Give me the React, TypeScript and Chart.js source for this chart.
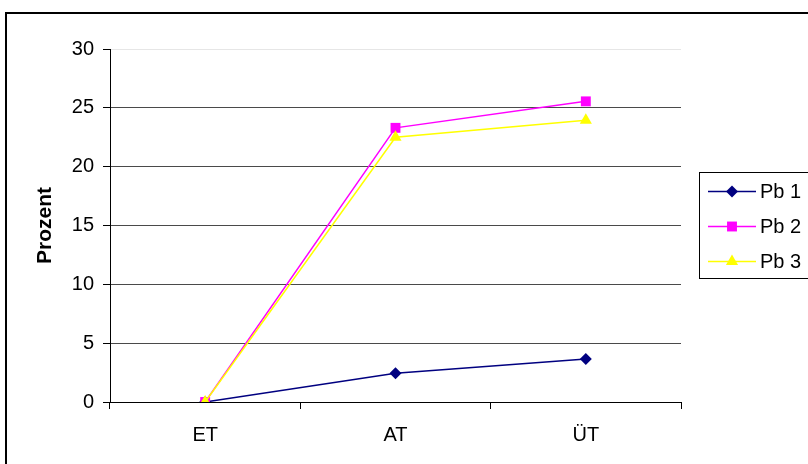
import { useEffect, useRef } from 'react';
import { Chart, registerables } from 'chart.js';

Chart.register(...registerables);

const categories = ['ET', 'AT', 'ÜT'];
const seriesNames = ['Pb 1', 'Pb 2', 'Pb 3'];
const pb1Values = [0, 2.45, 3.65];
const pb2Values = [0, 23.3, 25.55];
const pb3Values = [0, 22.5, 23.95];
const yTickValues = [0, 5, 10, 15, 20, 25, 30];
const yAxisTitle = 'Prozent';

const seriesColors = ['#000080', '#FF00FF', '#FFFF00'];
const seriesMarkers = ['rectRot', 'rect', 'triangle'];
const seriesMarkerRadius = [6, 7, 7];

const FONT = "'Liberation Sans', Arial, sans-serif";

function drawMarker(ctx: CanvasRenderingContext2D, kind: string, x: number, y: number, r: number) {
  ctx.beginPath();
  if (kind === 'rectRot') {
    ctx.moveTo(x, y - r);
    ctx.lineTo(x + r, y);
    ctx.lineTo(x, y + r);
    ctx.lineTo(x - r, y);
  } else if (kind === 'rect') {
    const s = r * Math.SQRT1_2;
    ctx.rect(x - s, y - s, 2 * s, 2 * s);
  } else {
    const h = r * 1.5;
    const w = r * Math.sqrt(3) / 2;
    ctx.moveTo(x, y - r);
    ctx.lineTo(x + w, y + h - r);
    ctx.lineTo(x - w, y + h - r);
  }
  ctx.closePath();
  ctx.fill();
}

// Frame around the whole chart and the boxed legend on the right.
const framePlugin = {
  id: 'frameAndLegend',
  beforeDraw(chart: any) {
    const ctx = chart.ctx as CanvasRenderingContext2D;
    ctx.save();
    ctx.fillStyle = '#ffffff';
    ctx.fillRect(0, 0, chart.width, chart.height);
    ctx.strokeStyle = '#000000';
    ctx.lineWidth = 2;
    ctx.strokeRect(6, 13, chart.width + 20, chart.height + 20);
    ctx.restore();
  },
  afterDraw(chart: any) {
    const ctx = chart.ctx as CanvasRenderingContext2D;
    ctx.save();
    ctx.strokeStyle = '#000000';
    ctx.lineWidth = 1;
    ctx.strokeRect(699.5, 172.5, 130, 106);
    const rows = [191, 226, 261];
    chart.data.datasets.forEach((ds: any, i: number) => {
      const y = rows[i];
      ctx.strokeStyle = ds.borderColor;
      ctx.lineWidth = 1.5;
      ctx.beginPath();
      ctx.moveTo(708, y + 0.5);
      ctx.lineTo(756, y + 0.5);
      ctx.stroke();
      ctx.fillStyle = ds.borderColor;
      drawMarker(ctx, seriesMarkers[i], 732, y + 0.5, seriesMarkerRadius[i]);
      ctx.fillStyle = '#000000';
      ctx.font = `20px ${FONT}`;
      ctx.textBaseline = 'middle';
      ctx.textAlign = 'left';
      ctx.fillText(ds.label, 760, y + 1);
    });
    ctx.restore();
  },
};

export default function App() {
  const canvasRef = useRef<HTMLCanvasElement | null>(null);

  useEffect(() => {
    document.body.style.margin = '0';
    const canvas = canvasRef.current;
    if (!canvas) return;
    const valueSets = [pb1Values, pb2Values, pb3Values];
    const chart = new Chart(canvas, {
      type: 'line',
      data: {
        labels: categories,
        datasets: seriesNames.map((name, i) => ({
          label: name,
          data: valueSets[i],
          borderColor: seriesColors[i],
          backgroundColor: seriesColors[i],
          pointBackgroundColor: seriesColors[i],
          pointBorderColor: seriesColors[i],
          pointBorderWidth: 0,
          pointStyle: seriesMarkers[i] as any,
          pointRadius: seriesMarkerRadius[i],
          borderWidth: 1.5,
          tension: 0,
          order: 2 - i,
        })),
      },
      options: {
        animation: false,
        responsive: false,
        devicePixelRatio: 1,
        layout: { padding: { left: 33, top: 49, right: 127, bottom: 0 } },
        plugins: {
          legend: { display: false },
          tooltip: { enabled: false },
        },
        scales: {
          x: {
            type: 'category',
            offset: true,
            afterFit(scale: any) {
              scale.height = 62;
            },
            grid: {
              offset: true,
              drawOnChartArea: false,
              drawTicks: true,
              tickLength: 7,
              color: '#000000',
              tickColor: '#000000',
            },
            border: { color: '#000000', width: 1 },
            ticks: {
              color: '#000000',
              font: { family: FONT, size: 20 },
              padding: 14,
            },
          },
          y: {
            min: 0,
            max: 30,
            afterFit(scale: any) {
              scale.width = 77;
            },
            afterBuildTicks(scale: any) {
              scale.ticks = yTickValues.map((v) => ({ value: v }));
            },
            grid: {
              color: (c: any) => (c.tick && c.tick.value === 30 ? '#e6e6e6' : c.tick && c.tick.value === 0 ? '#000000' : '#4a4a4a'),
              tickColor: '#000000',
              tickLength: 7,
              lineWidth: 1,
            },
            border: { color: '#000000', width: 1 },
            ticks: {
              color: '#000000',
              font: { family: FONT, size: 20 },
              padding: 9,
            },
            title: {
              display: true,
              text: yAxisTitle,
              color: '#000000',
              font: { family: FONT, size: 21, weight: 'bold' },
              padding: 0,
            },
          },
        },
      },
      plugins: [framePlugin],
    });
    return () => chart.destroy();
  }, []);

  return (
    <div style={{ position: 'absolute', left: 0, top: 0, width: 808, height: 464 }}>
      <canvas ref={canvasRef} width={808} height={464} style={{ width: 808, height: 464 }} />
    </div>
  );
}
